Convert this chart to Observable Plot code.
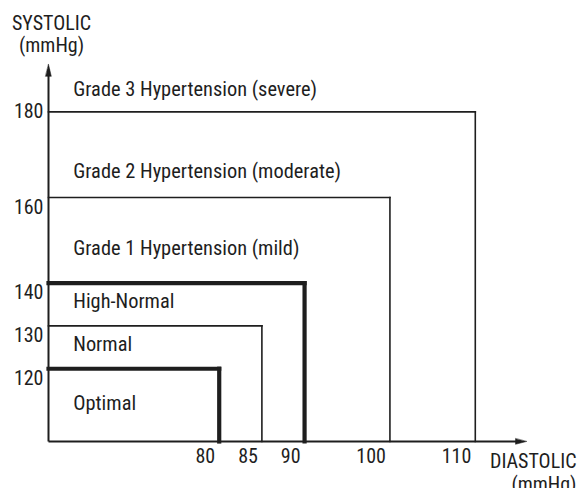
<!DOCTYPE html>
<html>
<head>
<meta charset="utf-8">
<script src="https://cdn.jsdelivr.net/npm/d3@7"></script>
<script src="https://cdn.jsdelivr.net/npm/@observablehq/plot@0.6"></script>
<style>
  html, body { margin: 0; padding: 0; background: #fff; }
  #chart svg { display: block; }
</style>
</head>
<body>
<div id="chart"></div>
<script>
// Categories (bottom to top)
const categories = ["Optimal", "Normal", "High-Normal", "Grade 1 Hypertension (mild)", "Grade 2 Hypertension (moderate)", "Grade 3 Hypertension (severe)"];
// Upper limits of each box (systolic / diastolic, mmHg)
const systolicLimits = [120, 130, 140, 160, 180];
const diastolicLimits = [80, 85, 90, 100, 110];
// Boundary emphasis (true = thick line)
const boldBoundary = [true, false, true, false, false];
// Approximate systolic level where each category label sits
const labelSystolic = [112, 125.7, 135.7, 148, 166, 185.2];
// Tick labels
const yTicks = [120, 130, 140, 160, 180];
const xTicks = [80, 85, 90, 100, 110];

const xMin = 60, xMax = 116, yMin = 103, yMax = 192;
const ink = "#1e1e1e";
const font = "'Roboto Condensed', Roboto, sans-serif";

const boxes = systolicLimits.map((s, i) => ({sys: s, dia: diastolicLimits[i], bold: boldBoundary[i]}));
const labels = categories.map((c, i) => ({name: c, sys: labelSystolic[i]}));

const arrowHead = {
  draw(context, l, r) {
    context.moveTo(0, -l);
    context.lineTo(r, 0);
    context.lineTo(-r, 0);
    context.closePath();
  }
};

const chart = Plot.plot({
  width: 580,
  height: 488,
  marginLeft: 48,
  marginRight: 54,
  marginTop: 60,
  marginBottom: 47,
  x: {domain: [xMin, xMax], axis: null},
  y: {domain: [yMin, yMax], axis: null},
  style: {fontFamily: font, background: "#fff"},
  marks: [
    // box top edges
    Plot.link(boxes, {
      x1: xMin, x2: d => d.dia, y1: d => d.sys, y2: d => d.sys,
      stroke: ink, strokeWidth: d => d.bold ? 4.2 : 1.6, strokeLinecap: "square"
    }),
    // box right edges
    Plot.link(boxes, {
      x1: d => d.dia, x2: d => d.dia, y1: yMin, y2: d => d.sys,
      stroke: ink, strokeWidth: d => d.bold ? 4.2 : 1.6, strokeLinecap: "square"
    }),
    // axes
    Plot.link([0], {x1: xMin, x2: xMax - 1, y1: yMin, y2: yMin, stroke: ink, strokeWidth: 2}),
    Plot.link([0], {x1: xMin, x2: xMin, y1: yMin, y2: yMax - 2, stroke: ink, strokeWidth: 2}),
    Plot.vector([0], {x: xMin, y: yMax - 0.9, length: 12, rotate: 0, anchor: "end", shape: arrowHead, r: 2.8, fill: ink, stroke: ink, strokeWidth: 0.5}),
    Plot.vector([0], {x: xMax, y: yMin, length: 11, rotate: 90, anchor: "end", shape: arrowHead, r: 2.8, fill: ink, stroke: ink, strokeWidth: 0.5}),
    // category labels
    Plot.text(labels, {
      x: 62.9, y: "sys", text: "name", textAnchor: "start", lineAnchor: "middle",
      fontSize: 20.4, fill: ink
    }),
    // y tick labels
    Plot.text(yTicks.filter(t => t === 180), {
      x: xMin, y: d => d, text: d => String(d), textAnchor: "end", lineAnchor: "middle",
      dx: -5, fontSize: 20, fill: ink
    }),
    Plot.text(yTicks.filter(t => t !== 180), {
      x: xMin, y: d => d, text: d => String(d), textAnchor: "end", lineAnchor: "top",
      dx: -5, dy: 2, fontSize: 20, fill: ink
    }),
    // x tick labels
    Plot.text(xTicks, {
      x: d => d, y: yMin, text: d => String(d), textAnchor: "end", lineAnchor: "top",
      dx: -4, dy: 7, fontSize: 20, fill: ink
    }),
    // axis titles
    Plot.text(["SYSTOLIC\n(mmHg)"], {
      x: xMin, y: yMax, text: d => d, textAnchor: "middle", lineAnchor: "top",
      dx: 3, dy: -46, fontSize: 20, lineHeight: 1.1, fill: ink
    }),
    Plot.text(["DIASTOLIC\n(mmHg)"], {
      x: xMax, y: yMin, text: d => d, textAnchor: "end", lineAnchor: "top",
      dx: 50, dy: 11, fontSize: 20, lineHeight: 1.12, fill: ink
    })
  ]
});

document.getElementById("chart").append(chart);
</script>
</body>
</html>
